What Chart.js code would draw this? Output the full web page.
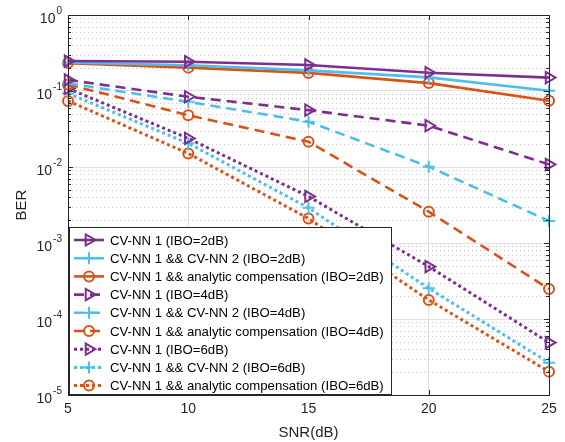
<!DOCTYPE html>
<html>
<head>
<meta charset="utf-8">
<script src="https://cdn.jsdelivr.net/npm/chart.js@4/dist/chart.umd.min.js"></script>
<style>
  html, body { margin: 0; padding: 0; background: #fff; }
  #berChart { display: block; }
</style>
</head>
<body>
<canvas id="berChart" width="565" height="442"></canvas>
<script>
// SNR points and BER curves
const snr = [5, 10, 15, 20, 25];
const cvnn1Ibo2 = [0.248, 0.243, 0.220, 0.174, 0.150];
const cvnn12Ibo2 = [0.237, 0.218, 0.187, 0.151, 0.101];
const analyticIbo2 = [0.233, 0.203, 0.173, 0.127, 0.0746];
const cvnn1Ibo4 = [0.140, 0.084, 0.056, 0.035, 0.0108];
const cvnn12Ibo4 = [0.126, 0.072, 0.0395, 0.0101, 0.00195];
const analyticIbo4 = [0.122, 0.048, 0.0215, 0.00258, 0.000248];
const cvnn1Ibo6 = [0.108, 0.0238, 0.0041, 0.00049, 0.000049];
const cvnn12Ibo6 = [0.093, 0.0205, 0.0029, 0.000253, 0.0000266];
const analyticIbo6 = [0.074, 0.0151, 0.0021, 0.000178, 0.0000203];

const seriesLabels = [
    'CV-NN 1 (IBO=2dB)',
    'CV-NN 1 && CV-NN 2 (IBO=2dB)',
    'CV-NN 1 && analytic compensation (IBO=2dB)',
    'CV-NN 1 (IBO=4dB)',
    'CV-NN 1 && CV-NN 2 (IBO=4dB)',
    'CV-NN 1 && analytic compensation (IBO=4dB)',
    'CV-NN 1 (IBO=6dB)',
    'CV-NN 1 && CV-NN 2 (IBO=6dB)',
    'CV-NN 1 && analytic compensation (IBO=6dB)'
];
const seriesValues = [cvnn1Ibo2, cvnn12Ibo2, analyticIbo2, cvnn1Ibo4, cvnn12Ibo4, analyticIbo4, cvnn1Ibo6, cvnn12Ibo6, analyticIbo6];
const yDecades = [1e-5, 1e-4, 1e-3, 1e-2, 1e-1, 1];

const PURPLE = '#7E2F8E';
const BLUE = '#4DBEEE';
const ORANGE = '#D95319';
const colors = [PURPLE, BLUE, ORANGE];
const dashes = [[], [10, 6], [3, 3]];
const markers = [
    { pointStyle: 'triangle', rotation: 90, radius: 6.5 },
    { pointStyle: 'cross', rotation: 0, radius: 6 },
    { pointStyle: 'circle', rotation: 0, radius: 5 }
];

Chart.defaults.font.family = "'Liberation Sans', Arial, sans-serif";
Chart.defaults.color = '#262626';

const datasets = seriesValues.map((vals, i) => {
    const m = markers[i % 3];
    return {
        label: seriesLabels[i],
        data: vals.map((v, j) => ({ x: snr[j], y: v })),
        borderColor: colors[i % 3],
        backgroundColor: 'rgba(0,0,0,0)',
        borderWidth: i >= 6 ? 3 : 2.6,
        borderDash: dashes[Math.floor(i / 3)],
        pointStyle: m.pointStyle,
        pointRotation: m.rotation,
        pointRadius: m.radius,
        pointBorderWidth: 2,
        pointBorderColor: colors[i % 3],
        pointBackgroundColor: 'rgba(0,0,0,0)',
        tension: 0,
        clip: false
    };
});

const axisColor = '#262626';

const matlabAxes = {
    id: 'matlabAxes',
    beforeDatasetsDraw(chart) {
        const ctx = chart.ctx;
        const a = chart.chartArea;
        const ys = chart.scales.y;
        ctx.save();
        // minor dotted grid
        ctx.strokeStyle = '#c8c8c8';
        ctx.lineWidth = 1;
        ctx.setLineDash([1, 3]);
        for (let e = -5; e < 0; e++) {
            for (let k = 2; k <= 9; k++) {
                const y = Math.round(ys.getPixelForValue(k * Math.pow(10, e))) + 0.5;
                ctx.beginPath();
                ctx.moveTo(a.left, y);
                ctx.lineTo(a.right, y);
                ctx.stroke();
            }
        }
        ctx.restore();
    },
    afterDraw(chart) {
        const ctx = chart.ctx;
        const a = chart.chartArea;
        const xs = chart.scales.x;
        const ys = chart.scales.y;
        ctx.save();
        ctx.strokeStyle = axisColor;
        ctx.lineWidth = 1;
        ctx.setLineDash([]);
        // box
        ctx.strokeRect(Math.round(a.left) + 0.5, Math.round(a.top) + 0.5,
            Math.round(a.right - a.left), Math.round(a.bottom - a.top));
        // ticks inside
        ctx.beginPath();
        snr.forEach(v => {
            const x = Math.round(xs.getPixelForValue(v)) + 0.5;
            ctx.moveTo(x, a.bottom); ctx.lineTo(x, a.bottom - 5);
            ctx.moveTo(x, a.top); ctx.lineTo(x, a.top + 5);
        });
        for (let e = -5; e <= 0; e++) {
            const y = Math.round(ys.getPixelForValue(Math.pow(10, e))) + 0.5;
            ctx.moveTo(a.left, y); ctx.lineTo(a.left + 5, y);
            ctx.moveTo(a.right, y); ctx.lineTo(a.right - 5, y);
            if (e < 0) {
                for (let k = 2; k <= 9; k++) {
                    const ym = Math.round(ys.getPixelForValue(k * Math.pow(10, e))) + 0.5;
                    ctx.moveTo(a.left, ym); ctx.lineTo(a.left + 3, ym);
                    ctx.moveTo(a.right, ym); ctx.lineTo(a.right - 3, ym);
                }
            }
        }
        ctx.stroke();

        // y tick labels 10^n
        ctx.fillStyle = axisColor;
        ctx.textBaseline = 'middle';
        ctx.textAlign = 'right';
        yDecades.forEach(v => {
            const y = ys.getPixelForValue(v);
            const exp = String(Math.round(Math.log10(v)));
            ctx.font = "10px 'Liberation Sans', Arial, sans-serif";
            const ew = ctx.measureText(exp).width;
            ctx.fillText(exp, a.left - 6, y - 4);
            ctx.font = "14px 'Liberation Sans', Arial, sans-serif";
            ctx.fillText('10', a.left - 7 - ew, y + 4);
        });

        // legend box inside the axes
        const lx = 69.5, ly = 227.5, lw = 322, lh = 167;
        ctx.fillStyle = '#fff';
        ctx.fillRect(lx, ly, lw, lh);
        ctx.strokeStyle = axisColor;
        ctx.strokeRect(lx, ly, lw, lh);
        chart.data.datasets.forEach((ds, i) => {
            const cy = 240 + i * 18.2;
            ctx.strokeStyle = ds.borderColor;
            ctx.lineWidth = ds.borderWidth;
            ctx.setLineDash(ds.borderDash);
            ctx.beginPath();
            ctx.moveTo(74, cy);
            ctx.lineTo(104, cy);
            ctx.stroke();
            ctx.setLineDash([]);
            ctx.lineWidth = ds.pointBorderWidth;
            ctx.fillStyle = 'rgba(0,0,0,0)';
            Chart.helpers.drawPoint(ctx, {
                pointStyle: ds.pointStyle,
                rotation: ds.pointRotation,
                radius: ds.pointRadius,
                borderWidth: ds.pointBorderWidth
            }, 89, cy);
            ctx.fillStyle = '#000';
            ctx.textAlign = 'left';
            ctx.textBaseline = 'middle';
            ctx.font = "13.2px 'Liberation Sans', Arial, sans-serif";
            ctx.fillText(ds.label, 110, cy + 1);
        });
        ctx.restore();
    }
};

new Chart(document.getElementById('berChart'), {
    type: 'line',
    data: { datasets: datasets },
    options: {
        responsive: false,
        animation: false,
        layout: { padding: { top: 15, right: 16, left: 0, bottom: 0 } },
        plugins: { legend: { display: false }, tooltip: { enabled: false } },
        scales: {
            x: {
                type: 'linear',
                min: 5,
                max: 25,
                ticks: { stepSize: 5, font: { size: 14 }, color: axisColor, padding: 6 },
                grid: { color: '#e2e2e2', drawTicks: false },
                border: { color: axisColor },
                title: { display: true, text: 'SNR(dB)', font: { size: 15 }, color: axisColor, padding: { top: 4, bottom: 0 } },
                afterFit: s => { s.height = 47; }
            },
            y: {
                type: 'logarithmic',
                min: 1e-5,
                max: 1,
                afterBuildTicks: s => { s.ticks = yDecades.map(v => ({ value: v })); },
                ticks: { display: false },
                grid: { color: '#e2e2e2', drawTicks: false },
                border: { color: axisColor },
                title: { display: true, text: 'BER', font: { size: 15 }, color: axisColor, padding: { top: 13, bottom: 0 } },
                afterFit: s => { s.width = 68; }
            }
        }
    },
    plugins: [matlabAxes]
});
</script>
</body>
</html>
